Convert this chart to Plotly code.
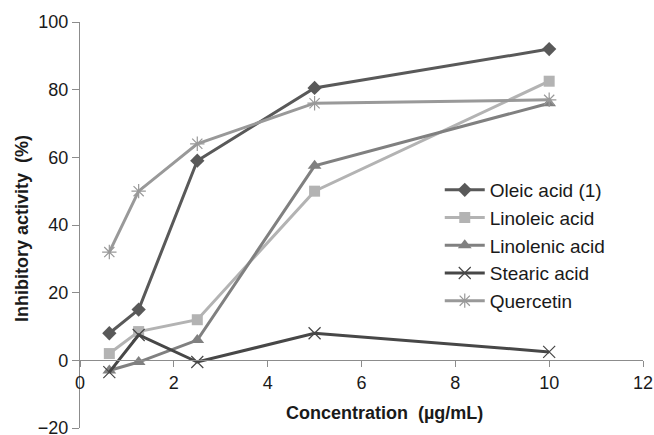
import plotly.graph_objects as go

conc = [0.625, 1.25, 2.5, 5, 10]
oleic = [8, 15, 59, 80.5, 92]
linoleic = [2, 8.5, 12, 50, 82.5]
linolenic = [-3, -0.5, 6, 57.5, 76]
stearic = [-3.5, 7.5, -0.5, 8, 2.5]
quercetin = [32, 50, 64, 76, 77]

series = [
    ("Oleic acid (1)", oleic, "#595959", "diamond", 11),
    ("Linoleic acid", linoleic, "#b3b3b3", "square", 11),
    ("Linolenic acid", linolenic, "#808080", "triangle-up", 12),
    ("Stearic acid", stearic, "#474747", "x-thin-open", 12),
    ("Quercetin", quercetin, "#999999", "asterisk-open", 12),
]

FONT = "Liberation Sans, Arial, sans-serif"
fig = go.Figure()
for i, (name, vals, col, sym, sz) in enumerate(series):
    thin = "open" in sym
    fig.add_trace(go.Scatter(
        x=conc, y=vals, name=name, mode="lines+markers",
        legendgroup=f"g{i}",
        line=dict(color=col, width=3),
        marker=dict(symbol=sym, size=sz, color=col,
                    line=dict(color=col, width=1.2 if thin else 0)),
    ))

fig.update_layout(
    width=654, height=435,
    margin=dict(l=80, r=11, t=22, b=7, autoexpand=False),
    paper_bgcolor="white", plot_bgcolor="white",
    font=dict(family=FONT, size=18, color="#1a1a1a"),
    showlegend=True,
    legend=dict(x=0.639, y=0.633, xanchor="left", yanchor="top",
                bgcolor="rgba(0,0,0,0)", tracegroupgap=0,
                font=dict(family=FONT, size=19, color="#1a1a1a"),
                itemwidth=40),
    xaxis=dict(range=[0, 12], dtick=2, tick0=0, anchor="free",
               position=20/120, showline=True, linecolor="#8c8c8c",
               linewidth=1.3, ticks="outside", ticklen=6, tickcolor="#8c8c8c",
               showgrid=False, zeroline=False, ticklabeloverflow="allow",
               automargin=False, tickfont=dict(size=18)),
    yaxis=dict(range=[-20, 100], dtick=20, tick0=0, showline=True,
               linecolor="#8c8c8c", linewidth=1.3, ticks="outside", ticklen=7,
               tickcolor="#8c8c8c", showgrid=False, zeroline=False,
               ticklabeloverflow="allow", automargin=False,
               tickfont=dict(size=18)),
    annotations=[
        dict(text="<b>Concentration  (µg/mL)</b>", xref="paper", yref="paper",
             x=(384-80)/563, y=1-(413-22)/406, xanchor="center", yanchor="middle",
             showarrow=False,
             font=dict(family=FONT, size=18, color="#1a1a1a")),
        dict(text="<b>Inhibitory activity  (%)</b>", xref="paper", yref="paper",
             x=(22-80)/563, y=1-(229-22)/406, xanchor="center", yanchor="middle",
             showarrow=False, textangle=-90,
             font=dict(family=FONT, size=18, color="#1a1a1a")),
    ],
)

fig.write_html("out.html", config={"displayModeBar": False},
               post_script="document.body.style.margin='0px';")
